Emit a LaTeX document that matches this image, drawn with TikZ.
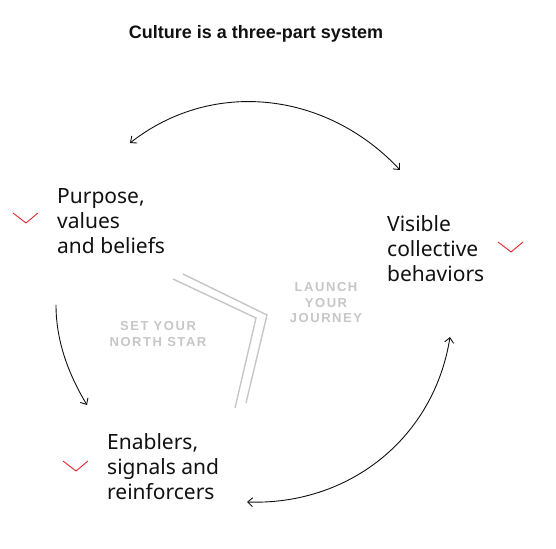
\documentclass[tikz,border=0pt]{standalone}
\usepackage{fontspec}
\setmainfont{Noto Sans}
\newfontfamily\heavy{Liberation Sans}
\usetikzlibrary{arrows.meta}
\definecolor{ink}{HTML}{111111}
\definecolor{accent}{HTML}{E0282E}
\definecolor{faint}{HTML}{C6C6C6}
\begin{document}
\begin{tikzpicture}[x=1pt,y=1pt,
  label/.style={font=\fontsize{21}{25}\selectfont, text=ink, align=left, inner sep=0pt, anchor=north west},
  stage/.style={font=\heavy\bfseries\fontsize{13}{15.5}\selectfont\addfontfeature{LetterSpace=12}, text=faint, align=center, inner sep=0pt, anchor=north},
  chev/.style={draw=accent, line width=0.9pt},
  guide/.style={draw=faint, line width=1.4pt},
  cycle/.style={draw=ink, line width=0.9pt},
  barb/.tip={Straight Barb[length=5pt,width=9pt]}
]
\useasboundingbox (0,0) rectangle (556,548);
% title
\node[font=\heavy\bfseries\fontsize{18}{21}\selectfont, text=ink, inner sep=0pt, anchor=north] (title) at (256,523) {Culture is a three-part system};
% labels
\node[label] (purpose) at (57,360) {Purpose,\\values\\and beliefs};
\node[label] (visible) at (387,333) {Visible\\collective\\behaviors};
\node[label] (enablers) at (107,115) {Enablers,\\signals and\\reinforcers};
% chevrons
\draw[chev] (13,335) -- (26,325) -- (38,335);
\draw[chev] (498,306) -- (511,296) -- (523,306);
\draw[chev] (63,87) -- (76,77) -- (88,87);
% guide lines
\draw[guide] (183,274) -- (267,233) -- (246,145);
\draw[guide] (173,269) -- (256,230) -- (235,140);
% stage texts
\node[stage] (north) at (158,226.5) {SET YOUR\\NORTH STAR};
\node[stage] (launch) at (326,265.5) {LAUNCH\\YOUR\\JOURNEY};
% cycle arrows
\coordinate (a1) at (130,405);
\coordinate (a2) at (400,378);
\coordinate (b1) at (450,211);
\coordinate (b2) at (247,46);
\coordinate (c1) at (56,243);
\coordinate (c2) at (87,143);
\draw[cycle, barb-barb] (a1) to[out=38,in=133] (a2);
\draw[cycle, barb-barb] (b1) to[out=-99,in=-2] (b2);
\draw[cycle, -barb] (c1) to[out=270,in=121,looseness=0.88] (c2);
\end{tikzpicture}
\end{document}
